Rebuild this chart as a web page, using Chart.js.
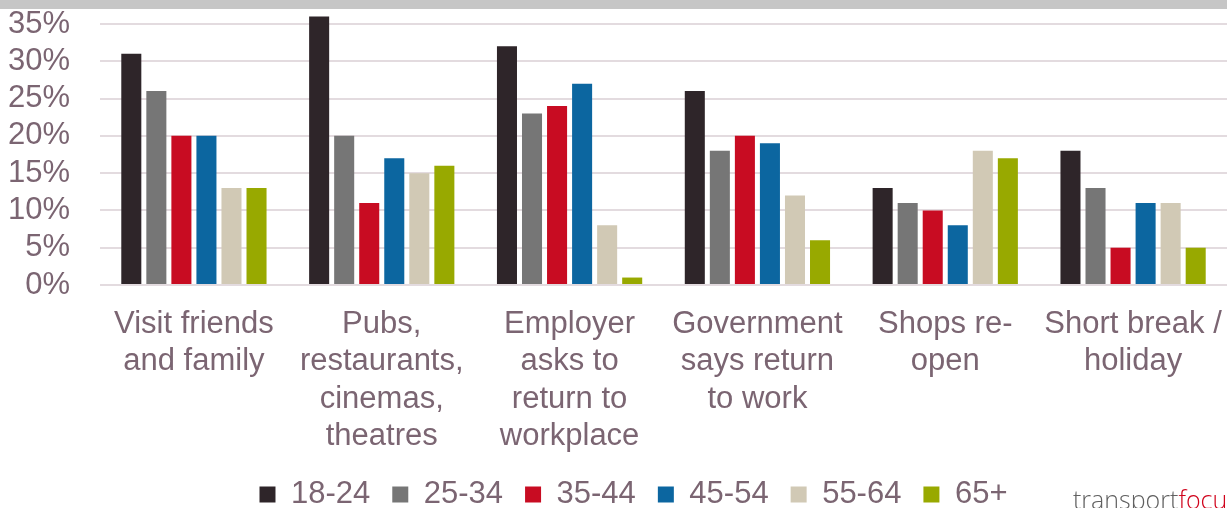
<!DOCTYPE html>
<html>
<head>
<meta charset="utf-8">
<script src="https://cdn.jsdelivr.net/npm/chart.js@4"></script>
<style>
    html, body { margin: 0; padding: 0; background: #fff; }
    #wrap { position: relative; width: 1227px; height: 508px; overflow: hidden; }
    #topbar { position: absolute; left: 0; top: 0; width: 1227px; height: 9px; background: #c6c6c6; }
    #logo {
        position: absolute; left: 1073px; top: 482px; white-space: nowrap;
        font-family: "Open Sans", sans-serif; font-weight: 300; font-size: 25px; color: #606060;
    }
    #logo span { color: #d0021b; }
    canvas { position: absolute; left: 0; top: 0; }
</style>
</head>
<body>
<div id="wrap">
    <canvas id="chart" width="1227" height="508"></canvas>
    <div id="topbar"></div>
    <div id="logo">transport<span>focus</span></div>
</div>
<script>
// Chart data
const categories = [
    ['Visit friends', 'and family'],
    ['Pubs,', 'restaurants,', 'cinemas,', 'theatres'],
    ['Employer', 'asks to', 'return to', 'workplace'],
    ['Government', 'says return', 'to work'],
    ['Shops re-', 'open'],
    ['Short break /', 'holiday']
];
const ageGroups = ['18-24', '25-34', '35-44', '45-54', '55-64', '65+'];
const age18to24 = [31, 36, 32, 26, 13, 18];
const age25to34 = [26, 20, 23, 18, 11, 13];
const age35to44 = [20, 11, 24, 20, 10, 5];
const age45to54 = [20, 17, 27, 19, 8, 11];
const age55to64 = [13, 15, 8, 12, 18, 11];
const age65plus = [13, 16, 1, 6, 17, 5];
const yTicks = [0, 5, 10, 15, 20, 25, 30, 35];

const seriesValues = [age18to24, age25to34, age35to44, age45to54, age55to64, age65plus];
const seriesColors = ['#2e2529', '#767676', '#c80c22', '#0c66a0', '#d1c9b5', '#98a900'];

const textColor = '#7b6572';
const gridColor = '#e3dbdf';

Chart.defaults.font.family = '"Liberation Sans", Arial, sans-serif';

// put the legend where the original sits
const legendShift = {
    id: 'legendShift',
    afterLayout(chart) {
        const lg = chart.legend;
        if (!lg) return;
        lg.top = 457;
        lg.bottom = 520;
        lg.left += 19;
        lg.right += 19;
    }
};

const ctx = document.getElementById('chart').getContext('2d');
new Chart(ctx, {
    type: 'bar',
    data: {
        labels: categories,
        datasets: ageGroups.map((name, i) => ({
            label: name,
            data: seriesValues[i],
            backgroundColor: seriesColors[i],
            borderWidth: 0,
            barPercentage: 0.8,
            categoryPercentage: 0.8,
            clip: false
        }))
    },
    options: {
        responsive: false,
        animation: false,
        layout: {
            padding: { top: 24, right: -2, bottom: 0, left: 0 }
        },
        scales: {
            x: {
                grid: { display: false },
                border: { display: false },
                ticks: {
                    color: textColor,
                    font: { size: 31 },
                    padding: 13,
                    maxRotation: 0,
                    autoSkip: false
                },
                afterFit: scale => {
                    scale.height = 170;
                    scale.paddingLeft = 0;
                    scale.paddingRight = 0;
                }
            },
            y: {
                min: 0,
                max: 35,
                afterBuildTicks: scale => {
                    scale.ticks = yTicks.map(v => ({ value: v }));
                },
                grid: { color: gridColor, lineWidth: 2, drawTicks: false },
                border: { display: false },
                ticks: {
                    color: textColor,
                    font: { size: 31 },
                    padding: 30,
                    autoSkip: false,
                    callback: v => v + '%'
                },
                afterFit: scale => {
                    scale.width = 100;
                    scale.paddingTop = 0;
                    scale.paddingBottom = 0;
                }
            }
        },
        plugins: {
            legend: {
                position: 'bottom',
                maxHeight: 53,
                labels: {
                    color: textColor,
                    font: { size: 31 },
                    boxWidth: 16,
                    boxHeight: 16,
                    padding: 22
                }
            },
            tooltip: { enabled: false }
        }
    },
    plugins: [legendShift]
});
</script>
</body>
</html>
